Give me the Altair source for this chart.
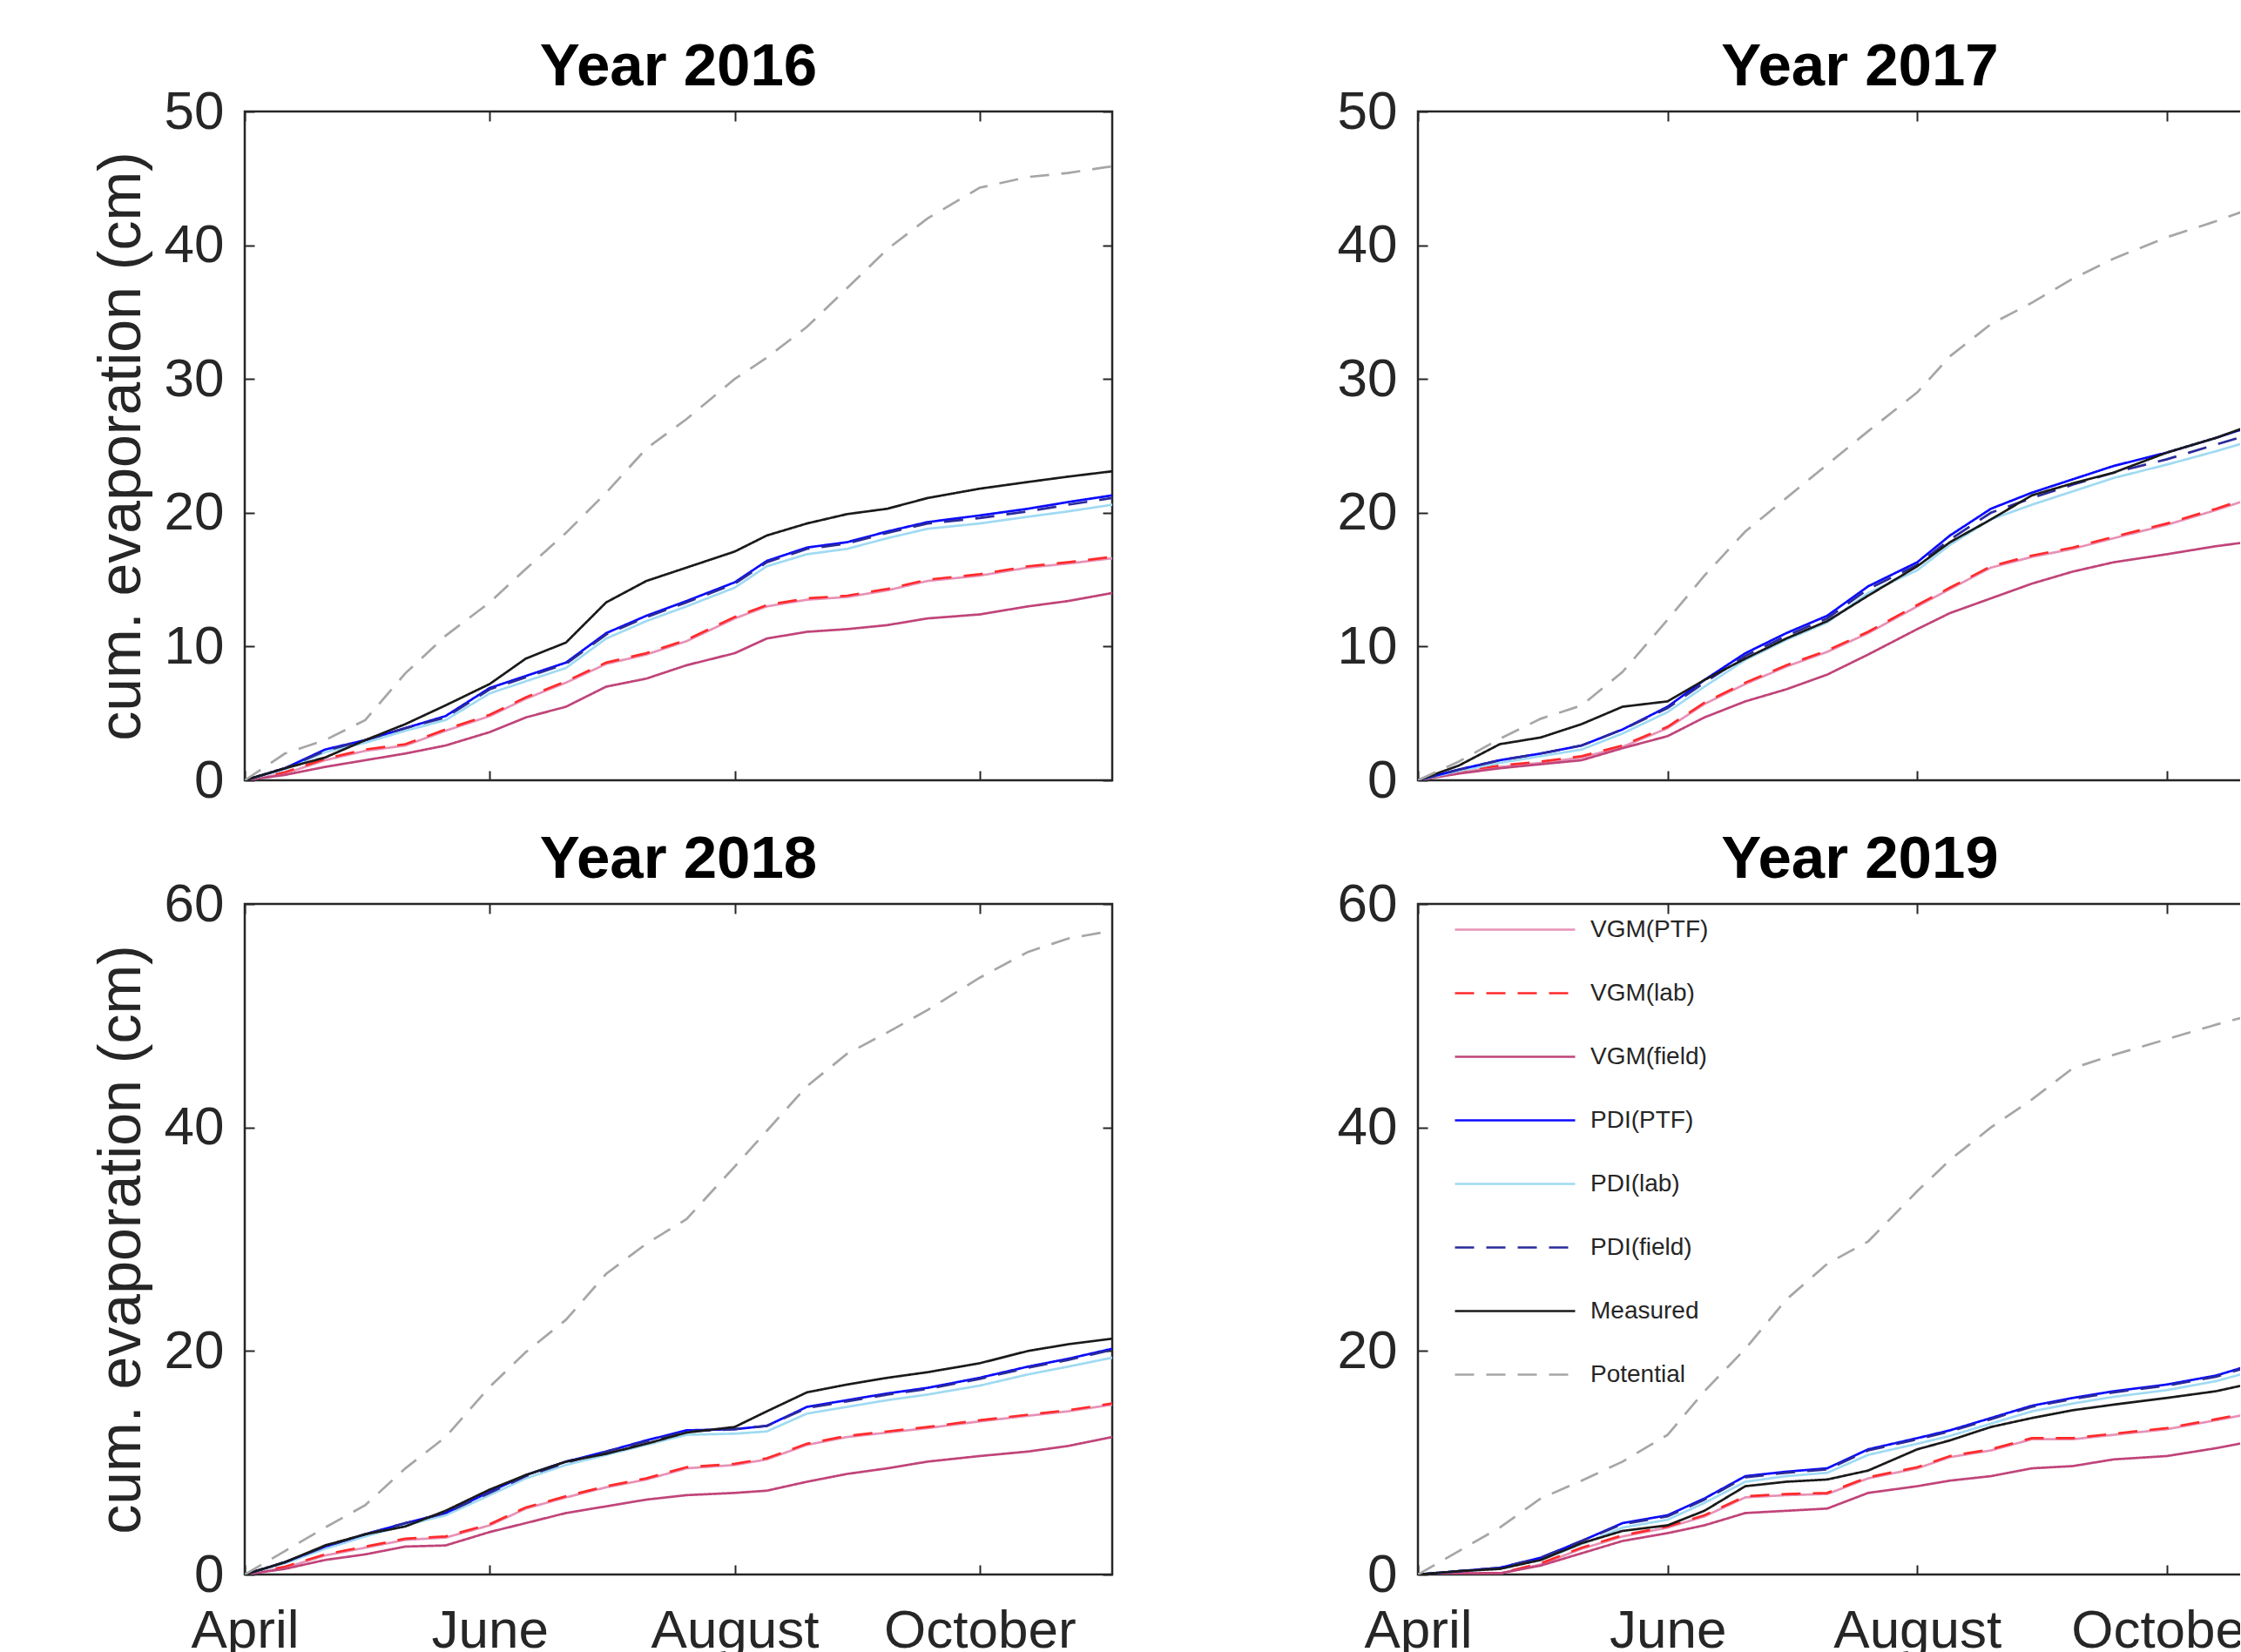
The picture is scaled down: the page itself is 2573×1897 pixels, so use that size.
import altair as alt
import pandas as pd

# Series, in legend order, with their line colours and dash patterns
SERIES = ["VGM(PTF)", "VGM(lab)", "VGM(field)", "PDI(PTF)", "PDI(lab)",
          "PDI(field)", "Measured", "Potential"]
COLORS = ["#e891b6", "#ff2a2a", "#c04479", "#0a0aff", "#9fdaf2",
          "#2a2a9c", "#1a1a1a", "#a6a6a6"]
DASHES = [[1, 0], [22, 14], [1, 0], [1, 0], [1, 0], [22, 14], [1, 0], [22, 14]]
# lines are painted in this order (last one on top)
DRAW_ORDER = ["VGM(PTF)", "VGM(lab)", "VGM(field)", "PDI(lab)", "PDI(PTF)",
              "PDI(field)", "Measured", "Potential"]

# days since 1 April
DAYS = [0, 10, 20, 30, 40, 50, 61, 70, 80, 90, 100, 110, 122, 130, 140, 150,
        160, 170, 183, 195, 205, 216]
MONTH_TICKS = [0, 61, 122, 183]
MONTH_NAMES = ["April", "June", "August", "October"]

# cumulative evaporation (cm)
Y2016 = {
    "Potential":  [0, 2.0, 3.0, 4.5, 8.0, 10.8, 13.3, 15.8, 18.5, 21.5, 24.8, 27.0, 30.0, 31.6, 33.9, 36.8, 39.7, 42.0, 44.3, 45.1, 45.4, 45.9],
    "Measured":   [0, 0.9, 1.7, 3.0, 4.2, 5.6, 7.2, 9.1, 10.3, 13.3, 14.9, 15.9, 17.1, 18.3, 19.2, 19.9, 20.3, 21.1, 21.8, 22.3, 22.7, 23.1],
    "PDI(PTF)":   [0, 0.9, 2.3, 3.0, 3.9, 4.8, 6.9, 7.8, 8.8, 11.0, 12.3, 13.4, 14.8, 16.4, 17.4, 17.8, 18.6, 19.3, 19.8, 20.3, 20.8, 21.3],
    "PDI(field)": [0, 0.9, 2.2, 3.0, 3.9, 4.7, 6.8, 7.7, 8.7, 10.9, 12.2, 13.3, 14.7, 16.3, 17.3, 17.7, 18.5, 19.2, 19.6, 20.1, 20.6, 21.1],
    "PDI(lab)":   [0, 0.8, 2.1, 2.8, 3.7, 4.5, 6.5, 7.4, 8.4, 10.6, 11.9, 13.0, 14.4, 16.0, 16.9, 17.3, 18.1, 18.8, 19.2, 19.7, 20.1, 20.6],
    "VGM(lab)":   [0, 0.6, 1.6, 2.3, 2.7, 3.8, 4.9, 6.2, 7.4, 8.8, 9.5, 10.5, 12.2, 13.1, 13.6, 13.8, 14.3, 15.0, 15.4, 16.0, 16.3, 16.7],
    "VGM(PTF)":   [0, 0.5, 1.5, 2.2, 2.6, 3.7, 4.8, 6.1, 7.3, 8.7, 9.4, 10.4, 12.1, 13.0, 13.5, 13.7, 14.2, 14.9, 15.3, 15.9, 16.2, 16.6],
    "VGM(field)": [0, 0.4, 1.0, 1.5, 2.0, 2.6, 3.6, 4.7, 5.5, 7.0, 7.6, 8.6, 9.5, 10.6, 11.1, 11.3, 11.6, 12.1, 12.4, 13.0, 13.4, 14.0],
}
Y2017 = {
    "Potential":  [0, 1.4, 3.1, 4.6, 5.6, 8.1, 12.0, 15.3, 18.6, 21.1, 23.6, 26.1, 29.0, 31.7, 34.1, 35.7, 37.5, 39.0, 40.6, 41.8, 42.9, 43.5],
    "Measured":   [0, 1.1, 2.7, 3.2, 4.2, 5.5, 5.9, 7.5, 9.1, 10.6, 11.9, 13.8, 16.0, 17.8, 19.5, 21.3, 22.2, 23.0, 24.5, 25.6, 26.7, 27.5],
    "PDI(PTF)":   [0, 0.8, 1.5, 2.0, 2.6, 3.8, 5.5, 7.5, 9.5, 11.0, 12.3, 14.5, 16.3, 18.3, 20.3, 21.5, 22.5, 23.5, 24.5, 25.6, 26.6, 27.4],
    "PDI(field)": [0, 0.8, 1.5, 2.0, 2.6, 3.8, 5.4, 7.3, 9.3, 10.8, 12.1, 14.3, 16.1, 18.0, 20.0, 21.1, 22.1, 23.0, 24.0, 25.1, 26.0, 26.8],
    "PDI(lab)":   [0, 0.7, 1.3, 1.8, 2.3, 3.5, 5.1, 7.0, 9.0, 10.5, 11.8, 14.0, 15.7, 17.6, 19.5, 20.6, 21.6, 22.6, 23.6, 24.6, 25.5, 26.3],
    "VGM(lab)":   [0, 0.7, 1.1, 1.4, 1.8, 2.6, 4.0, 5.8, 7.3, 8.6, 9.7, 11.1, 13.1, 14.4, 16.0, 16.8, 17.4, 18.2, 19.2, 20.3, 21.3, 22.0],
    "VGM(PTF)":   [0, 0.6, 1.0, 1.3, 1.7, 2.5, 3.9, 5.7, 7.2, 8.5, 9.6, 11.0, 13.0, 14.3, 15.9, 16.7, 17.3, 18.1, 19.1, 20.2, 21.2, 21.9],
    "VGM(field)": [0, 0.5, 0.9, 1.2, 1.5, 2.4, 3.3, 4.7, 5.9, 6.8, 7.9, 9.4, 11.3, 12.5, 13.6, 14.7, 15.6, 16.3, 16.9, 17.5, 17.9, 18.4],
}
Y2018 = {
    "Potential":  [0, 2.1, 4.2, 6.2, 9.5, 12.3, 16.8, 19.9, 22.8, 26.9, 29.6, 31.8, 36.5, 39.7, 43.7, 46.6, 48.5, 50.5, 53.4, 55.7, 56.9, 57.6],
    "Measured":   [0, 1.1, 2.6, 3.6, 4.3, 5.7, 7.6, 8.9, 10.1, 10.8, 11.7, 12.7, 13.2, 14.6, 16.3, 17.0, 17.6, 18.1, 18.9, 20.0, 20.6, 21.1],
    "PDI(PTF)":   [0, 1.1, 2.5, 3.6, 4.6, 5.5, 7.4, 8.9, 10.1, 11.0, 12.0, 12.9, 13.0, 13.3, 15.0, 15.6, 16.2, 16.7, 17.6, 18.6, 19.3, 20.2],
    "PDI(field)": [0, 1.1, 2.5, 3.6, 4.6, 5.5, 7.3, 8.8, 10.0, 11.0, 11.9, 12.8, 13.0, 13.3, 14.9, 15.5, 16.1, 16.6, 17.5, 18.5, 19.2, 20.1],
    "PDI(lab)":   [0, 1.0, 2.3, 3.4, 4.4, 5.3, 7.1, 8.6, 9.8, 10.7, 11.6, 12.5, 12.6, 12.8, 14.4, 15.0, 15.6, 16.1, 16.9, 17.9, 18.6, 19.4],
    "VGM(lab)":   [0, 0.7, 1.8, 2.5, 3.2, 3.4, 4.5, 6.0, 7.0, 7.9, 8.6, 9.6, 9.9, 10.4, 11.7, 12.4, 12.8, 13.2, 13.8, 14.3, 14.7, 15.3],
    "VGM(PTF)":   [0, 0.6, 1.7, 2.4, 3.1, 3.3, 4.4, 5.9, 6.9, 7.8, 8.5, 9.5, 9.8, 10.3, 11.6, 12.3, 12.7, 13.1, 13.7, 14.2, 14.6, 15.2],
    "VGM(field)": [0, 0.5, 1.3, 1.8, 2.5, 2.6, 3.8, 4.6, 5.5, 6.1, 6.7, 7.1, 7.3, 7.5, 8.3, 9.0, 9.5, 10.1, 10.6, 11.0, 11.5, 12.3],
}
Y2019 = {
    "Potential":  [0, 2.1, 4.2, 6.8, 8.4, 10.1, 12.5, 16.4, 20.2, 24.6, 27.8, 29.8, 34.3, 37.1, 40.0, 42.5, 45.3, 46.5, 47.9, 49.2, 50.2, 51.2],
    "Measured":   [0, 0.3, 0.5, 1.3, 2.8, 3.9, 4.4, 5.7, 7.9, 8.3, 8.5, 9.3, 11.2, 12.0, 13.2, 14.0, 14.7, 15.2, 15.8, 16.4, 17.2, 18.0],
    "PDI(PTF)":   [0, 0.3, 0.6, 1.5, 3.0, 4.6, 5.3, 6.8, 8.8, 9.2, 9.5, 11.2, 12.2, 12.9, 14.0, 15.1, 15.8, 16.4, 17.0, 17.8, 18.9, 19.8],
    "PDI(field)": [0, 0.3, 0.6, 1.5, 3.0, 4.5, 5.2, 6.7, 8.7, 9.1, 9.4, 11.1, 12.1, 12.8, 13.9, 15.0, 15.7, 16.3, 16.9, 17.7, 18.8, 19.6],
    "PDI(lab)":   [0, 0.3, 0.5, 1.3, 2.7, 4.2, 4.9, 6.4, 8.3, 8.8, 9.1, 10.7, 11.7, 12.4, 13.5, 14.6, 15.3, 15.9, 16.5, 17.3, 18.3, 19.1],
    "VGM(lab)":   [0, 0.1, 0.1, 1.0, 2.4, 3.5, 4.3, 5.3, 7.0, 7.2, 7.3, 8.7, 9.6, 10.6, 11.2, 12.2, 12.2, 12.6, 13.1, 13.9, 14.6, 15.3],
    "VGM(PTF)":   [0, 0.1, 0.1, 0.9, 2.3, 3.4, 4.2, 5.2, 6.9, 7.1, 7.2, 8.6, 9.5, 10.5, 11.1, 12.1, 12.1, 12.5, 13.0, 13.8, 14.5, 15.2],
    "VGM(field)": [0, 0.1, 0.1, 0.8, 1.9, 3.0, 3.7, 4.4, 5.5, 5.7, 5.9, 7.3, 7.9, 8.4, 8.8, 9.5, 9.7, 10.3, 10.6, 11.3, 12.0, 12.6],
}

FONT = "Liberation Sans"
INK = "#262626"
TICK = 11


def frame(values):
    rows = []
    for name in DRAW_ORDER:
        for d, v in zip(DAYS, values[name]):
            rows.append({"series": name, "day": d, "value": v})
    return pd.DataFrame(rows)


month_expr = " : ".join(
    f"datum.value == {t} ? '{n}'" for t, n in zip(MONTH_TICKS, MONTH_NAMES)
) + " : ''"


def panel(title, values, ymax, yticks, width, height, left_col, bottom_row, legend):
    df = frame(values)
    xscale = alt.Scale(domain=[0, 216], nice=False, zero=False)
    yscale = alt.Scale(domain=[0, ymax], nice=False)

    if legend:
        leg = alt.Legend(
            orient="none", legendX=87, legendY=5, title=None,
            symbolType="M-3,0H3", symbolSize=2116, symbolStrokeWidth=2.5,
            labelFontSize=28, labelFont=FONT, labelColor=INK,
            labelOffset=62, rowPadding=34, padding=0, symbolFillColor="transparent",
        )
    else:
        leg = None

    lines = alt.Chart(df).mark_line(strokeWidth=2.7, clip=True).encode(
        x=alt.X("day:Q", scale=xscale, axis=alt.Axis(
            orient="bottom", values=MONTH_TICKS, labelExpr=month_expr,
            labels=bottom_row, title=None, grid=False, domain=False,
            offset=-TICK, tickSize=TICK, tickColor=INK, tickWidth=2,
            labelFontSize=62, labelFont=FONT, labelColor=INK, labelPadding=34,
            labelFlush=False, labelLimit=400, labelOverlap=False)),
        y=alt.Y("value:Q", scale=yscale, axis=alt.Axis(
            orient="left", values=yticks, grid=False, domain=False,
            offset=-TICK, tickSize=TICK, tickColor=INK, tickWidth=2,
            labelFontSize=62, labelFont=FONT, labelColor=INK, labelPadding=24,
            title="cum. evaporation (cm)" if left_col else None,
            titleFontSize=68, titleFont=FONT, titleFontWeight="normal",
            titleColor=INK, titlePadding=14)),
        color=alt.Color("series:N", scale=alt.Scale(domain=SERIES, range=COLORS), legend=leg),
        strokeDash=alt.StrokeDash("series:N", scale=alt.Scale(domain=SERIES, range=DASHES), legend=leg),
        detail="series:N",
    )

    # mirrored inward ticks on the top and right edges of the box
    mirror = alt.Chart(df).mark_line(strokeOpacity=0).encode(
        x=alt.X("day:Q", scale=xscale, axis=alt.Axis(
            orient="top", values=MONTH_TICKS, labels=False, title=None,
            grid=False, domain=False, offset=-TICK, tickSize=TICK,
            tickColor=INK, tickWidth=2)),
        y=alt.Y("value:Q", scale=yscale, axis=alt.Axis(
            orient="right", values=yticks, labels=False, title=None,
            grid=False, domain=False, offset=-TICK, tickSize=TICK,
            tickColor=INK, tickWidth=2)),
        detail="series:N",
    )

    return alt.layer(lines, mirror).resolve_axis(x="independent", y="independent").properties(
        width=width, height=height,
        title=alt.TitleParams(title, fontSize=69, font=FONT, fontWeight="bold",
                              color="black", offset=-15, frame="group"),
    )


p16 = panel("Year 2016", Y2016, 50, [0, 10, 20, 30, 40, 50], 996, 768, True, False, False)
p17 = panel("Year 2017", Y2017, 50, [0, 10, 20, 30, 40, 50], 1015, 768, False, False, False)
p18 = panel("Year 2018", Y2018, 60, [0, 20, 40, 60], 996, 770, True, True, False)
p19 = panel("Year 2019", Y2019, 60, [0, 20, 40, 60], 1015, 770, False, True, True)

# the right-hand column runs past the page edge and is cut off there
chart = alt.concat(p16, p17, p18, p19, columns=2, spacing={"row": 22, "column": 253}).resolve_scale(
    color="independent", strokeDash="independent"
).properties(
    padding={"left": 104, "top": 41, "right": -74, "bottom": -6},
).configure(
    background="white",
    view=alt.ViewConfig(stroke=INK, strokeWidth=2.5),
)

chart.save("out.html", embed_options={"renderer": "svg", "actions": False})
